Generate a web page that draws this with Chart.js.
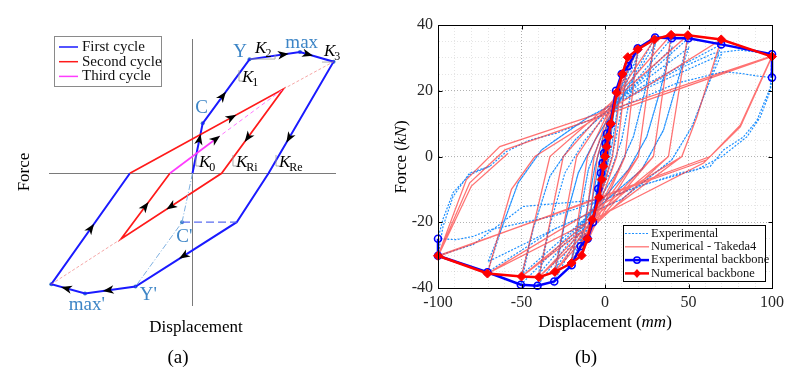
<!DOCTYPE html>
<html><head><meta charset="utf-8">
<script src="https://cdn.jsdelivr.net/npm/chart.js@4.4.0/dist/chart.umd.min.js"></script>
<style>
html,body{margin:0;padding:0;background:#fff;}
#wrap{position:relative;width:790px;height:385px;overflow:hidden;}
#ca{position:absolute;left:0;top:0;}
#cb{position:absolute;left:390px;top:0;}
</style></head><body>
<div id="wrap"><canvas id="ca" width="390" height="385"></canvas><canvas id="cb" width="400" height="385"></canvas></div>
<script>
// ================= PANEL (a): schematic Takeda hysteresis (normalised units) =================
const firstCycleX  = [0, 0.71, 3.97, 7.49, 9.83, 5.30, 3.08, -3.97, -7.49, -9.84, -4.36];
const firstCycleY  = [0, 3.48, 7.94, 8.45, 7.78, 0, -3.41, -7.89, -8.38, -7.73, 0];
const secondCycleX = [-4.36, 6.33, 2.03, -4.98, -1.57];
const secondCycleY = [0, 5.87, 0, -4.58, 0];
const thirdCycleX  = [-1.57, 1.69];
const thirdCycleY  = [0, 2.44];
const thirdTargetX = [1.69, 6.33];
const thirdTargetY = [2.44, 5.87];
const guideLowX = [-9.84, -4.98];
const guideLowY = [-7.73, -4.58];
const guideHighX = [6.33, 9.83];
const guideHighY = [5.87, 7.78];
const crackPathX = [0, -0.73, -3.97];
const crackPathY = [0, -3.41, -7.89];
const crackLinkX = [-0.73, 3.08];
const crackLinkY = [-3.41, -3.41];
const keyPointX = [0.71, 3.97, 7.49, 9.83, -0.73, -3.97, -7.49, -9.84];
const keyPointY = [3.48, 7.94, 8.45, 7.78, -3.41, -7.89, -8.38, -7.73];
const keyPointLabels = ["C", "Y", "max", "", "C'", "Y'", "max'", ""];
const keyLabelX = [0.64, 3.31, 7.61, 0, -0.57, -3.08, -7.37, 0];
const keyLabelY = [4.53, 8.47, 9.06, 0, -4.45, -8.48, -9.18, 0];
const stiffNames = ["2", "1", "3", "0", "Ri", "Re"];
const stiffX = [4.36, 3.45, 9.16, 0.45, 3.03, 6.03];
const stiffY = [8.38, 6.36, 8.17, 0.44, 0.44, 0.44];
// arrows: [path, segment index, position along segment]
const arrowMarks = [
  ['first',0,0.67],['first',1,0.42],['first',2,0.66],['first',3,0.22],['first',4,0.68],
  ['first',6,0.52],['first',7,0.53],['first',8,0.54],['first',9,0.5],
  ['second',0,0.66],['second',1,0.57],['second',2,0.5],['second',3,0.49],['third',0,0.97]
];
const legendA = ["First cycle", "Second cycle", "Third cycle"];

// ================= PANEL (b): experimental vs numerical =================
const xTickLabels = [-100, -50, 0, 50, 100];
const yTickLabels = [-40, -20, 0, 20, 40];
const legendB = ["Experimental", "Numerical - Takeda4", "Experimental backbone", "Numerical backbone"];

const expBackboneX = [-100,-100,-70.4,-50.4,-40.4,-30.4,-20,-14.6,-10.4,-7.2,-4,-2.4,-1.4,-0.6,0.4,1.2,3.2,6.6,10,13.8,19.6,30,40,50,69.6,100,100];
const expBackboneY = [-25,-30.2,-35.2,-39,-39.3,-38,-33.1,-27.3,-25,-20,-9.8,-5,-2,1,4,7,9.8,20,25.1,27.5,32.9,36.2,36,36,34.1,31.1,24];

const numBackboneX = [-100,-70.4,-50,-39.6,-30,-20,-14,-10.6,-7.6,-3.6,-2,-1,0,1,2,3.5,7,10.4,13.6,19.6,29.6,39.6,49.6,69.6,100];
const numBackboneY = [-30.2,-35.6,-36.5,-36.7,-35.1,-32.4,-30.1,-25,-19.2,-12.4,-7,-3,0,3,6,10,19.4,25.1,30.2,32.6,35.6,37,36.9,35.6,30.4];

const numLoopX = [0,1,-0.3,-1,0.3,2.5,0.8,-2.5,-0.8,2.5,0.8,-2.5,-0.8,
  5,1.8,-2.5,-5,-1.8,5,1.8,-5,-1.8,
  5,10.4,4.5,-5,-10.6,-4.5,10.4,4.5,-10.6,-4.5,
  10.4,13.6,7,-10.6,-14,-6.5,13.6,7,-14,-6.5,
  13.6,19.6,12,-14,-20,-10.5,19.6,12,-20,-10.5,
  19.6,29.6,20,-20,-30,-17,29.6,20,-30,-17,
  29.6,39.6,29,-30,-39.6,-25,39.6,29,-39.6,-25,
  39.6,49.6,38,-39.6,-50,-33,49.6,38,-50,-33,
  49.6,69.6,55,46,-50,-70.4,-56,-42,69.6,55,46,-70.4,-56,-42,
  69.6,100,81,59,-70.4,-100,-81,-60,100,81,61,-100,-83,-63,100,81,63,-100,-80,-58];
const numLoopY = [0,3,0,-3,0,7.5,0,-7.5,0,7.5,0,-7.5,0,
  14.5,0,-7.5,-14.5,0,14.5,0,-14.5,0,
  14.5,25.1,0,-14.5,-25,0,25.1,0,-25,0,
  25.1,30.2,0,-25,-30.1,0,30.2,0,-30.1,0,
  30.2,32.6,0,-30.1,-32.4,0,32.6,0,-32.4,0,
  32.6,35.6,0,-32.4,-35.1,0,35.6,0,-35.1,0,
  35.6,37,0,-35.1,-36.7,0,37,0,-36.7,0,
  37,36.9,0,-36.7,-36.5,0,36.9,0,-36.5,0,
  36.9,35.6,12,0,-36.5,-35.6,-10,0,35.6,12,0,-35.6,-10,0,
  35.6,30.4,9,-2,-35.6,-30.2,-8,2,30.4,9,-1,-30.2,-7,3,30.6,9.5,0,-30.4,-9,1];

const expLoopX = [0,1,0.2,-1,-0.2,2.5,1.2,0,-2.5,-1.2,0,
  4.5,3,1.5,-1,-4.5,-3,-1.5,1,4.5,3,1.5,-1,-4.5,-3,-1.5,1,
  6.6,4.5,2.5,0,-7.2,-5,-2.5,0,6.6,4.5,2.5,0,-7,-5,-2.5,0,
  10,7,4,0,-10.4,-7.5,-4,0,10,7,4,0,-10.4,-7.5,-4,0,
  13.8,10,6,0,-14.6,-10,-6,0,13.8,10,6,0,-14.6,-10,-6,0,
  19.6,15,10,3,-8,-20,-15,-10,-3,8,19.6,15,10,3,-8,-20,-15,-10,-3,8,
  30,24,17,8,-10,-30.4,-24,-16,-6,10,30,24,17,8,-10,-30.4,-24,-16,-6,10,
  40,33,25,14,-10,-40.4,-33,-24,-12,10,40,33,25,14,-10,-40,-33,-24,-12,10,
  50,43,35,22,-10,-50.4,-43,-33,-18,10,50,43,35,22,-10,-50,-43,-33,-18,10,
  69.6,62,52,40,10,-30,-70.4,-62,-52,-38,-10,30,69.6,62,52,40,10,-30,-70,-62,-52,-38,-10,
  47,65,81,100,99,91,83,71,63,45,21,0,-49,-79,-100,-97,-91,-81,-69,-59,-45,-29,-9,3,43,71,81,91,100,
  99,93,85,70,55,20,0,-30,-69,-79,-89,-100,-97,-91,-81,-69];
const expLoopY = [0,3.5,0.5,-3,-0.5,8,2,-1,-7,-1.5,1,
  12.5,6,1,-4,-11.5,-5,-1,4,12,6,1,-4,-11,-5,-1,4,
  20,10,2,-5,-20,-10,-2,5,19,10,2,-5,-19,-10,-2,5,
  25.1,13,3,-6,-25,-13,-3,6,24,13,3,-6,-24,-13,-3,6,
  27.5,15,4,-8,-27.3,-14,-3,8,26.5,15,4,-8,-26.5,-14,-3,8,
  32.9,18,5,-5,-15,-33.1,-18,-4,5,16,31,18,5,-5,-15,-31,-18,-4,5,16,
  36.2,20,6,-4,-18,-38,-20,-5,5,18,34,20,6,-4,-18,-35,-20,-5,5,18,
  36,20,6,-4,-18,-39.3,-21,-5,5,18,33,20,6,-4,-18,-36,-21,-5,5,18,
  36,22,8,-4,-18,-39,-22,-6,5,18,33,22,8,-4,-18,-36,-22,-6,5,18,
  34.1,22,9,-1,-13,-22,-35.2,-22,-8,2,12,22,31,22,9,-1,-13,-22,-32,-22,-8,2,12,
  27.3,31.4,32.4,31.1,21,11,6,2,-3,-5,-9,-13,-15.2,-26.8,-30.2,-21.3,-12.2,-5,-3,1.5,5,7.1,11.1,13.7,22.3,25.8,25.3,24.5,24,
  20,12,6,0,-4,-9,-13,-18,-22.3,-24.3,-25.3,-25,-19,-11,-5.5,-3];

// ================= helpers =================
const SERIF = "'Liberation Serif','Times New Roman',serif";
const pts = (xs, ys) => xs.map((x, i) => ({x: x, y: ys[i]}));
function richText(ctx, parts, cx, cy, rot) {
  ctx.save();
  ctx.translate(cx, cy);
  if (rot) ctx.rotate(rot);
  let total = 0;
  parts.forEach(p => { ctx.font = p[1]; total += ctx.measureText(p[0]).width; });
  let x = -total / 2;
  ctx.textBaseline = 'middle'; ctx.textAlign = 'left'; ctx.fillStyle = '#000';
  parts.forEach(p => { ctx.font = p[1]; ctx.fillText(p[0], x, 0); x += ctx.measureText(p[0]).width; });
  ctx.restore();
}

// ================= PANEL (a) chart =================
const colA = {first: '#1a1aff', second: '#ff1a1a', third: '#ff3cff', key: '#3d85c6'};
const pathsA = {first: [firstCycleX, firstCycleY], second: [secondCycleX, secondCycleY], third: [thirdCycleX, thirdCycleY]};

const panelADecor = {
  id: 'panelADecor',
  afterDraw(chart) {
    const ctx = chart.ctx, sx = chart.scales.x, sy = chart.scales.y;
    const X = v => sx.getPixelForValue(v), Y = v => sy.getPixelForValue(v);
    ctx.save();
    // arrows
    arrowMarks.forEach(a => {
      const [xs, ys] = pathsA[a[0]]; const i = a[1], t = a[2];
      const x0 = X(xs[i]), y0 = Y(ys[i]), x1 = X(xs[i+1]), y1 = Y(ys[i+1]);
      const px = x0 + (x1 - x0) * t, py = y0 + (y1 - y0) * t;
      ctx.save(); ctx.translate(px, py); ctx.rotate(Math.atan2(y1 - y0, x1 - x0));
      ctx.beginPath(); ctx.moveTo(6, 0); ctx.lineTo(-5, -4.2); ctx.lineTo(-2, 0); ctx.lineTo(-5, 4.2); ctx.closePath();
      ctx.fillStyle = '#000'; ctx.fill(); ctx.restore();
    });
    // key point labels
    ctx.fillStyle = colA.key; ctx.font = '19px ' + SERIF; ctx.textAlign = 'center'; ctx.textBaseline = 'middle';
    keyPointLabels.forEach((s, i) => { if (s) ctx.fillText(s, X(keyLabelX[i]), Y(keyLabelY[i])); });
    // stiffness labels with small slope marks
    ctx.strokeStyle = '#999'; ctx.lineWidth = 0.8;
    stiffNames.forEach((s, i) => {
      const lx = X(stiffX[i]), by = Y(stiffY[i]);
      ctx.fillStyle = '#000'; ctx.textAlign = 'left'; ctx.textBaseline = 'alphabetic';
      ctx.font = 'italic 17px ' + SERIF; ctx.fillText('K', lx, by);
      const w = ctx.measureText('K').width;
      ctx.font = '12px ' + SERIF; ctx.fillText(s, lx + w - 1, by + 4);
      ctx.beginPath();
      if (i === 0) { ctx.moveTo(lx - 5, by + 6); ctx.lineTo(lx + 20, by + 6); ctx.lineTo(lx + 20, by + 2); }
      else if (i === 2) { ctx.moveTo(lx - 2, by + 6); ctx.lineTo(lx + 9, by + 6); }
      else { ctx.moveTo(lx - 3, by - 12); ctx.lineTo(lx - 3, by - 1); ctx.lineTo(lx + 1, by - 1); }
      ctx.stroke();
    });
    // legend
    ctx.strokeStyle = '#8a8a8a'; ctx.lineWidth = 1;
    ctx.fillStyle = '#fff'; ctx.fillRect(54.5, 36.5, 107, 50); ctx.strokeRect(54.5, 36.5, 107, 50);
    const lc = [colA.first, colA.second, colA.third];
    legendA.forEach((s, i) => {
      const yy = 47 + i * 14.7;
      ctx.strokeStyle = lc[i]; ctx.lineWidth = 1.5;
      ctx.beginPath(); ctx.moveTo(59, yy); ctx.lineTo(78, yy); ctx.stroke();
      ctx.fillStyle = '#111'; ctx.font = '15px ' + SERIF; ctx.textAlign = 'left'; ctx.textBaseline = 'middle';
      ctx.fillText(s, 82, yy);
    });
    ctx.restore();
    richText(ctx, [['Force', '17px ' + SERIF]], 25, 172, -Math.PI / 2);
    richText(ctx, [['Displacement', '17px ' + SERIF]], 196, 328, 0);
    richText(ctx, [['(a)', '19px ' + SERIF]], 178, 358, 0);
  }
};

const lineDs = (data, color, width, dash) => ({data: data, showLine: true, borderColor: color, borderWidth: width,
  borderDash: dash || [], pointRadius: 0, fill: false, tension: 0});

new Chart(document.getElementById('ca'), {
  type: 'scatter',
  data: {datasets: [
    lineDs(pts(guideLowX, guideLowY), 'rgba(240,120,120,0.65)', 1, [3, 2]),
    lineDs(pts(guideHighX, guideHighY), 'rgba(240,120,120,0.65)', 1, [3, 2]),
    lineDs(pts(crackPathX, crackPathY), '#7fb0e0', 1, [6, 2, 1, 2]),
    lineDs(pts(crackLinkX, crackLinkY), '#5a6cf0', 1.2, [8, 4]),
    lineDs(pts(thirdTargetX, thirdTargetY), '#ff77ff', 1, [4, 3]),
    lineDs(pts(thirdCycleX, thirdCycleY), colA.third, 1.7),
    lineDs(pts(secondCycleX, secondCycleY), colA.second, 1.7),
    lineDs(pts(firstCycleX, firstCycleY), colA.first, 2),
    {data: pts(keyPointX, keyPointY), showLine: false, pointRadius: 2, pointBackgroundColor: colA.key, pointBorderColor: colA.key, pointBorderWidth: 0}
  ]},
  options: {
    responsive: false, animation: false, events: [],
    layout: {padding: {left: 49, right: 54, top: 39, bottom: 79}},
    plugins: {legend: {display: false}, tooltip: {enabled: false}},
    scales: {
      x: {type: 'linear', min: -10, max: 10, ticks: {display: false, stepSize: 10},
          grid: {drawTicks: false, color: c => (c.tick && c.tick.value === 0) ? '#7a7a7a' : 'rgba(0,0,0,0)'},
          border: {display: false}, afterFit: s => { s.height = 0; }},
      y: {type: 'linear', min: -9.25, max: 9.36, ticks: {display: false, stepSize: 10},
          grid: {drawTicks: false, color: c => (c.tick && c.tick.value === 0) ? '#7a7a7a' : 'rgba(0,0,0,0)'},
          border: {display: false}, afterFit: s => { s.width = 0; }}
    }
  },
  plugins: [panelADecor]
});

// ================= PANEL (b) chart =================
const colB = {exp: 'rgb(30,144,255)', num: 'rgba(255,55,55,0.7)', expBB: '#0000ff', numBB: '#ff0000'};
const tickFont = {family: SERIF, size: 16};

const panelBDecor = {
  id: 'panelBDecor',
  afterDraw(chart) {
    const ctx = chart.ctx, a = chart.chartArea, sx = chart.scales.x, sy = chart.scales.y;
    ctx.save();
    ctx.strokeStyle = '#000'; ctx.lineWidth = 1;
    const L = Math.round(a.left) + 0.5, T = Math.round(a.top) + 0.5, R = Math.round(a.right) + 0.5, B = Math.round(a.bottom) + 0.5;
    ctx.strokeRect(L, T, R - L, B - T);
    ctx.beginPath();
    xTickLabels.forEach(v => { const p = Math.round(sx.getPixelForValue(v)) + 0.5;
      ctx.moveTo(p, B); ctx.lineTo(p, B - 4); ctx.moveTo(p, T); ctx.lineTo(p, T + 4); });
    yTickLabels.forEach(v => { const p = Math.round(sy.getPixelForValue(v)) + 0.5;
      ctx.moveTo(L, p); ctx.lineTo(L + 4, p); ctx.moveTo(R, p); ctx.lineTo(R - 4, p); });
    ctx.stroke();
    // legend
    ctx.fillStyle = '#fff'; ctx.fillRect(233, 225, 143, 57);
    ctx.strokeStyle = '#000'; ctx.lineWidth = 1; ctx.strokeRect(233.5, 225.5, 142, 56);
    legendB.forEach((s, i) => {
      const yy = 233.5 + i * 13.3;
      ctx.save();
      if (i === 0) { ctx.strokeStyle = colB.exp; ctx.lineWidth = 1.2; ctx.setLineDash([2, 1.5]); }
      else if (i === 1) { ctx.strokeStyle = colB.num; ctx.lineWidth = 1.3; }
      else if (i === 2) { ctx.strokeStyle = colB.expBB; ctx.lineWidth = 2.5; }
      else { ctx.strokeStyle = colB.numBB; ctx.lineWidth = 2.5; }
      ctx.beginPath(); ctx.moveTo(235, yy); ctx.lineTo(259, yy); ctx.stroke();
      ctx.setLineDash([]);
      if (i === 2) { ctx.lineWidth = 1.5; ctx.beginPath(); ctx.arc(247, yy, 3.2, 0, Math.PI * 2); ctx.stroke(); }
      if (i === 3) { ctx.fillStyle = colB.numBB; ctx.beginPath(); ctx.moveTo(247, yy - 4.5); ctx.lineTo(251, yy); ctx.lineTo(247, yy + 4.5); ctx.lineTo(243, yy); ctx.closePath(); ctx.fill(); }
      ctx.restore();
      ctx.fillStyle = '#111'; ctx.font = '12.5px ' + SERIF; ctx.textAlign = 'left'; ctx.textBaseline = 'middle';
      ctx.fillText(s, 261, yy);
    });
    ctx.restore();
    const f = '17px ' + SERIF, fi = 'italic 17px ' + SERIF;
    richText(ctx, [['Displacement (', f], ['mm', fi], [')', f]], 215, 323, 0);
    richText(ctx, [['Force (', f], ['kN', fi], [')', f]], 12, 157, -Math.PI / 2);
    richText(ctx, [['(b)', '19px ' + SERIF]], 196, 358, 0);
  }
};

new Chart(document.getElementById('cb'), {
  type: 'scatter',
  data: {datasets: [
    {label: legendB[3], data: pts(numBackboneX, numBackboneY), showLine: true, borderColor: colB.numBB, borderWidth: 2.5,
     pointStyle: 'rectRot', pointRadius: 4.5, pointBackgroundColor: colB.numBB, pointBorderColor: colB.numBB, pointBorderWidth: 1, order: 1, clip: false},
    {label: legendB[2], data: pts(expBackboneX, expBackboneY), showLine: true, borderColor: colB.expBB, borderWidth: 2.5,
     pointStyle: 'circle', pointRadius: 3.5, pointBackgroundColor: 'rgba(255,255,255,0)', pointBorderColor: colB.expBB, pointBorderWidth: 1.6, order: 2, clip: false},
    {label: legendB[1], data: pts(numLoopX, numLoopY), showLine: true, borderColor: colB.num, borderWidth: 1.3, pointRadius: 0, order: 3},
    {label: legendB[0], data: pts(expLoopX, expLoopY), showLine: true, borderColor: colB.exp, borderWidth: 1.2, borderDash: [2, 1.5], pointRadius: 0, order: 4}
  ]},
  options: {
    responsive: false, animation: false, events: [],
    layout: {padding: {left: 0, right: 18, top: 25, bottom: 0}},
    plugins: {legend: {display: false}, tooltip: {enabled: false}},
    scales: {
      x: {type: 'linear', min: -100, max: 100,
          ticks: {stepSize: 10, autoSkip: false, maxRotation: 0, padding: 5, color: '#262626', font: tickFont,
                  callback: v => xTickLabels.includes(v) ? String(v) : ''},
          grid: {drawTicks: false, color: c => (c.tick && c.tick.value % 50 === 0) ? 'rgba(0,0,0,0.3)' : 'rgba(0,0,0,0.1)'},
          border: {display: true, color: '#000', width: 1, dash: [1, 2]},
          afterFit: s => { s.height = 97; }},
      y: {type: 'linear', min: -40, max: 40,
          ticks: {stepSize: 5, autoSkip: false, padding: 5, color: '#262626', font: tickFont,
                  callback: v => yTickLabels.includes(v) ? String(v) : ''},
          grid: {drawTicks: false, color: c => (c.tick && c.tick.value % 20 === 0) ? 'rgba(0,0,0,0.3)' : 'rgba(0,0,0,0.1)'},
          border: {display: true, color: '#000', width: 1, dash: [1, 2]},
          afterFit: s => { s.width = 48; }}
    }
  },
  plugins: [panelBDecor]
});
</script>
</body></html>
